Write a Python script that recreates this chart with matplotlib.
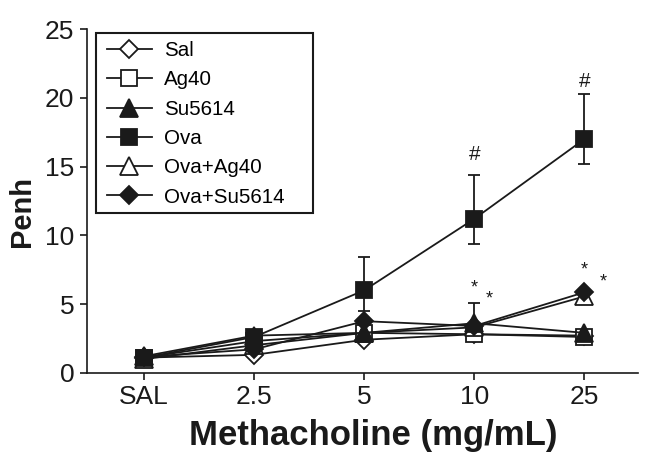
import numpy as np
import matplotlib
matplotlib.use("Agg")
import matplotlib.pyplot as plt
from matplotlib.patches import Rectangle

plt.rcParams['font.family'] = ['Liberation Sans', 'DejaVu Sans']

# methacholine doses (x categories)
doses = ["SAL", "2.5", "5", "10", "25"]

# Penh means
sal = [1.1, 1.3, 2.4, 2.8, 2.7]
ag40 = [1.1, 2.3, 2.9, 2.8, 2.6]
su5614 = [1.2, 2.7, 2.9, 3.6, 2.9]
ova = [1.1, 2.6, 6.0, 11.2, 17.0]
ova_ag40 = [1.0, 2.0, 2.9, 3.3, 5.55]
ova_su5614 = [1.15, 1.7, 3.75, 3.4, 5.85]

# visible error bars (lower, upper)
ova_err_lo = [0, 0, 1.5, 1.85, 1.8]
ova_err_hi = [0, 0, 2.4, 3.2, 3.3]
su_err_lo = [0, 0, 0, 0, 0]
su_err_hi = [0, 0, 0, 1.5, 0]

# significance marks
hash_x = [3, 4]
hash_y = [15.9, 21.2]
star_x = [3, 3.14, 4, 4.17]
star_y = [6.15, 5.4, 7.5, 6.6]

k = '#1a1a1a'
x = np.arange(len(doses))

fig = plt.figure(figsize=(6.54, 4.63), dpi=100)
ax = fig.add_axes([0.133, 0.195, 0.843, 0.742])

# name, values, marker, face, size, zorder
series = [
    ("Sal", sal, 'D', 'white', 9.5, 3),
    ("Ag40", ag40, 's', 'white', 12, 3),
    ("Su5614", su5614, '^', k, 13, 5),
    ("Ova", ova, 's', k, 12, 4),
    ("Ova+Ag40", ova_ag40, '^', 'white', 13, 3),
    ("Ova+Su5614", ova_su5614, 'D', k, 9.5, 4),
]

ax.errorbar(x, ova, yerr=[ova_err_lo, ova_err_hi], fmt='none', ecolor=k,
            elinewidth=1.3, capsize=4, capthick=1.3, zorder=2)
ax.errorbar(x, su5614, yerr=[su_err_lo, su_err_hi], fmt='none', ecolor=k,
            elinewidth=1.3, capsize=4, capthick=1.3, zorder=2)

for name, vals, m, fc, ms, z in series:
    ax.plot(x, vals, color=k, lw=1.3, marker=m, ms=ms, mfc=fc, mec=k,
            mew=1.3, label=name, zorder=z)

for xx, yy in zip(hash_x, hash_y):
    ax.text(xx, yy, "#", ha='center', va='center', fontsize=15, color=k)
for xx, yy in zip(star_x, star_y):
    ax.text(xx, yy, "*", ha='center', va='center', fontsize=13, color=k)

ax.set_xlim(-0.52, 4.49)
ax.set_ylim(0, 25)
ax.set_xticks(x)
ax.set_xticklabels(doses)
ax.set_yticks([0, 5, 10, 15, 20, 25])
ax.tick_params(labelsize=19, length=5, width=1.2, colors=k, pad=4)
for s in ['top', 'right']:
    ax.spines[s].set_visible(False)
for s in ['left', 'bottom']:
    ax.spines[s].set_linewidth(1.2)
    ax.spines[s].set_color(k)

ax.set_xlabel("Methacholine (mg/mL)", fontsize=25, fontweight='bold', color=k)
ax.xaxis.set_label_coords(0.52, -0.135)
ax.set_ylabel("Penh", fontsize=21, fontweight='bold', color=k)
ax.yaxis.set_label_coords(-0.092, 0.47)

leg = ax.legend(loc='upper left', bbox_to_anchor=(0.036, 0.965), borderaxespad=0,
                fontsize=14.8, frameon=False, handlelength=2.2,
                handletextpad=0.6, labelspacing=0.5, borderpad=0)
# legend box drawn separately (wider than its contents in the original)
ax.add_patch(Rectangle((0.016, 0.465), 0.394, 0.523, transform=ax.transAxes,
                       fill=False, edgecolor=k, lw=1.5, clip_on=False, zorder=6))

fig.savefig("out.png", dpi=100)
